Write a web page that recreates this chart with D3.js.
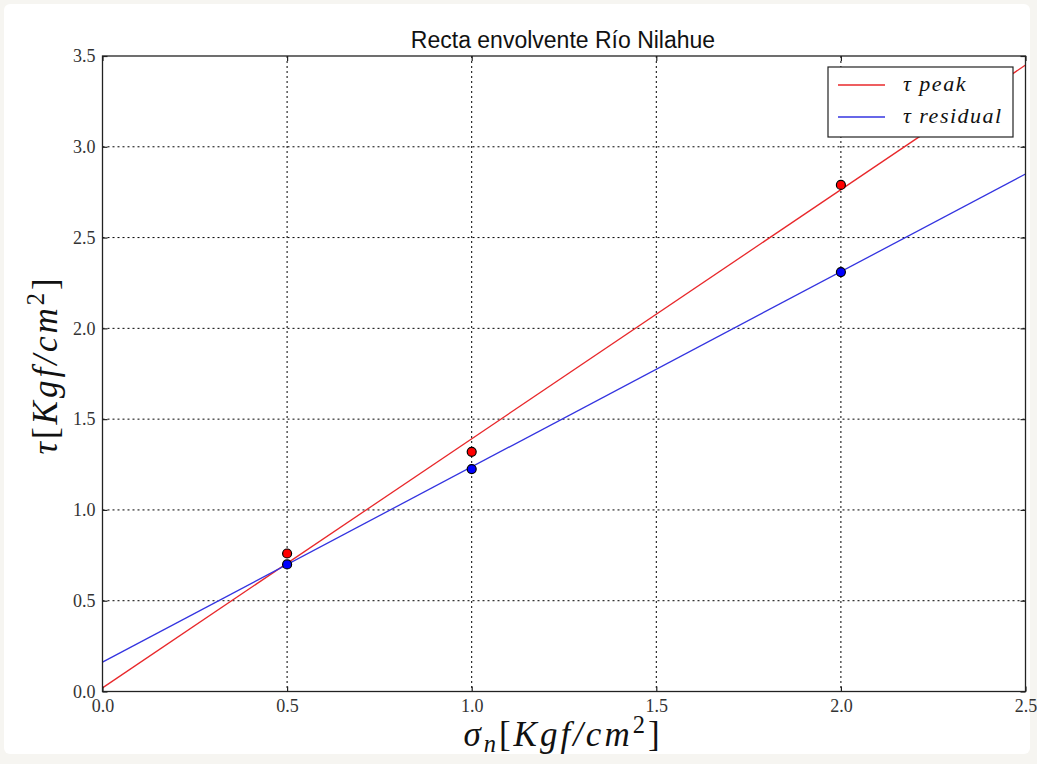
<!DOCTYPE html>
<html><head><meta charset="utf-8">
<script src="https://cdn.jsdelivr.net/npm/d3@7"></script>
<style>body{margin:0;background:#fff;} svg{display:block;}</style>
</head><body>
<script>
const sigma = [0.5, 1.0, 2.0];
const tauPeak = [0.76, 1.32, 2.79];
const tauResidual = [0.70, 1.225, 2.31];
const lineX = [0.0, 2.5];
const peakLineY = [0.02, 3.45];
const residualLineY = [0.162, 2.85];
const xTicks = [0.0, 0.5, 1.0, 1.5, 2.0, 2.5];
const yTicks = [0.0, 0.5, 1.0, 1.5, 2.0, 2.5, 3.0, 3.5];
const seriesNames = ["peak", "residual"];
const colors = ["#e8282b", "#3434e0"];
const markerColors = ["#ff0000", "#0000ff"];

const W = 1037, H = 764;
const m = {l: 102.5, r: 1025.5, t: 56, b: 691.5};
const svg = d3.select("body").append("svg").attr("width", W).attr("height", H);
svg.append("rect").attr("x",0).attr("y",0).attr("width",W).attr("height",H).attr("fill","#f6f5f1");
svg.append("rect").attr("x",4).attr("y",4).attr("width",1026).attr("height",750).attr("fill","#fff").attr("rx",6);

const x = d3.scaleLinear().domain([0, 2.5]).range([m.l, m.r]);
const y = d3.scaleLinear().domain([0, 3.5]).range([m.b, m.t]);

const serif = "'Liberation Serif','DejaVu Serif',serif";
const grid = svg.append("g");
grid.selectAll("line.vx").data(xTicks.slice(1, -1)).enter().append("line")
  .attr("x1", d => x(d)).attr("x2", d => x(d)).attr("y1", m.t).attr("y2", m.b)
  .attr("stroke", "#000").attr("stroke-width", 1).attr("stroke-dasharray", "2,3");
grid.selectAll("line.hy").data(yTicks.slice(1, -1)).enter().append("line")
  .attr("y1", d => y(d)).attr("y2", d => y(d)).attr("x1", m.l).attr("x2", m.r)
  .attr("stroke", "#000").attr("stroke-width", 1).attr("stroke-dasharray", "2,3");

svg.append("clipPath").attr("id","clip").append("rect")
  .attr("x", m.l).attr("y", m.t).attr("width", m.r - m.l).attr("height", m.b - m.t);

const plot = svg.append("g").attr("clip-path","url(#clip)");
const lineGen = d3.line().x(d => x(d[0])).y(d => y(d[1]));
const fitLines = [peakLineY, residualLineY];
fitLines.forEach((ly, i) => {
  plot.append("path").datum(lineX.map((v, j) => [v, ly[j]]))
    .attr("d", lineGen).attr("fill", "none").attr("stroke", colors[i]).attr("stroke-width", 1.3);
});
const pts = [tauPeak, tauResidual];
pts.forEach((vals, i) => {
  plot.selectAll(null).data(vals.map((v, j) => [sigma[j], v])).enter().append("circle")
    .attr("cx", d => x(d[0])).attr("cy", d => y(d[1])).attr("r", 4.5)
    .attr("fill", markerColors[i]).attr("stroke", "#000").attr("stroke-width", 1.2);
});

svg.append("rect").attr("x", m.l).attr("y", m.t).attr("width", m.r - m.l).attr("height", m.b - m.t)
  .attr("fill", "none").attr("stroke", "#222").attr("stroke-width", 1.3);

const xAxis = d3.axisBottom(x).tickValues(xTicks).tickFormat(d3.format(".1f")).tickSizeInner(-5).tickSizeOuter(0).tickPadding(8);
const gx = svg.append("g").attr("transform", `translate(0,${m.b})`).call(xAxis);
const yAxis = d3.axisLeft(y).tickValues(yTicks).tickFormat(d3.format(".1f")).tickSizeInner(-5).tickSizeOuter(0).tickPadding(7);
const gy = svg.append("g").attr("transform", `translate(${m.l},0)`).call(yAxis);
[gx, gy].forEach(g => {
  g.select(".domain").remove();
  g.selectAll("line").attr("stroke", "#222").attr("stroke-width", 1.2);
  g.selectAll("text").attr("font-family", serif).attr("font-size", 18).attr("fill", "#333");
});
svg.append("g").attr("transform", `translate(0,${m.t})`).call(d3.axisTop(x).tickValues(xTicks).tickSizeInner(-5).tickSizeOuter(0).tickFormat(""))
  .call(g => { g.select(".domain").remove(); g.selectAll("line").attr("stroke","#222").attr("stroke-width",1.2); });
svg.append("g").attr("transform", `translate(${m.r},0)`).call(d3.axisRight(y).tickValues(yTicks).tickSizeInner(-5).tickSizeOuter(0).tickFormat(""))
  .call(g => { g.select(".domain").remove(); g.selectAll("line").attr("stroke","#222").attr("stroke-width",1.2); });

svg.append("text").attr("x", 563).attr("y", 48).attr("text-anchor", "middle")
  .attr("font-family", "'Liberation Sans','DejaVu Sans',sans-serif").attr("font-size", 23).attr("fill", "#111")
  .text("Recta envolvente Río Nilahue");

function unitLabel(sel, sym, sub) {
  sel.attr("font-family", serif).attr("fill", "#111").attr("letter-spacing", 3);
  sel.append("tspan").attr("font-style", "italic").text(sym);
  if (sub) sel.append("tspan").attr("font-style", "italic").attr("font-size", "0.7em").attr("dy", "0.25em").text(sub);
  sel.append("tspan").attr("dy", sub ? "-0.17em" : null).text("[");
  sel.append("tspan").attr("font-style", "italic").text("Kgf/cm");
  sel.append("tspan").attr("font-size", "0.7em").attr("dy", "-0.55em").text("2");
  sel.append("tspan").attr("dy", "0.38em").text("]");
}
unitLabel(svg.append("text").attr("x", 563).attr("y", 746).attr("text-anchor", "middle").attr("font-size", 35), "σ", "n");
unitLabel(svg.append("text").attr("transform", "translate(57,365) rotate(-90)").attr("text-anchor", "middle").attr("font-size", 35), "τ", null);

const lg = svg.append("g");
lg.append("rect").attr("x", 828).attr("y", 67).attr("width", 185).attr("height", 70)
  .attr("fill", "#fff").attr("stroke", "#222").attr("stroke-width", 1.2);
seriesNames.forEach((n, i) => {
  const yy = 85 + i * 32;
  lg.append("line").attr("x1", 838).attr("x2", 885).attr("y1", yy).attr("y2", yy)
    .attr("stroke", colors[i]).attr("stroke-width", 1.4);
  lg.append("text").attr("x", 903).attr("y", yy + 6).attr("font-family", serif).attr("font-style", "italic")
    .attr("font-size", 22).attr("letter-spacing", 1.5).attr("fill", "#111").text("τ " + n);
});
</script>
</body></html>
